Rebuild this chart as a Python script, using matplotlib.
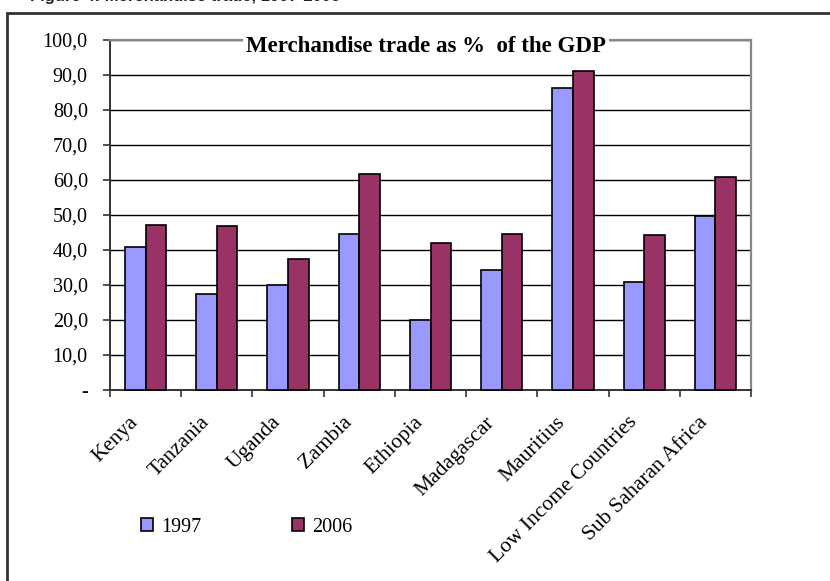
import matplotlib
matplotlib.use("Agg")
import matplotlib.pyplot as plt
import matplotlib.transforms as mtrans
from matplotlib.patches import Patch, Rectangle

categories = ["Kenya", "Tanzania", "Uganda", "Zambia", "Ethiopia", "Madagascar",
              "Mauritius", "Low Income Countries", "Sub Saharan Africa"]
vals_1997 = [40.8, 27.4, 30.0, 44.6, 20.0, 34.2, 86.4, 31.0, 49.7]
vals_2006 = [47.2, 46.8, 37.3, 61.7, 42.0, 44.6, 91.2, 44.2, 60.8]
series_labels = ["1997", "2006"]
yticks = [0, 10, 20, 30, 40, 50, 60, 70, 80, 90, 100]
ytick_labels = ["-", "10,0", "20,0", "30,0", "40,0", "50,0", "60,0", "70,0", "80,0", "90,0", "100,0"]
title = "Merchandise trade as %  of the GDP"
caption = "Figure 4: Merchandise trade, 1997-2006"

c1997 = "#9999FF"
c2006 = "#993366"
serif = ["Liberation Serif", "DejaVu Serif"]

W, H = 830, 581
fig = plt.figure(figsize=(W / 100, H / 100), dpi=100)
fig.patch.set_facecolor("white")

# outer frame (extends beyond right/bottom edge)
fig.patches.append(Rectangle((7 / W, -0.2), 1.2, 1 - 13 / H + 0.2, transform=fig.transFigure,
                             fill=False, edgecolor="#333333", linewidth=2.0, zorder=0))
# cropped caption at the very top
fig.text(30 / W, 1 - 1.5 / H, caption, fontsize=12, fontweight="bold",
         family=["Liberation Sans", "DejaVu Sans"], va="baseline", ha="left", color="#222222")

ax = fig.add_axes([110 / W, (H - 390) / H, 641 / W, 350 / H])
n = len(categories)
x = list(range(n))
bw = 0.29
ax.bar([i - bw / 2 for i in x], vals_1997, width=bw, color=c1997, edgecolor="black",
       linewidth=1.2, zorder=3, clip_on=False)
ax.bar([i + bw / 2 for i in x], vals_2006, width=bw, color=c2006, edgecolor="black",
       linewidth=1.2, zorder=3, clip_on=False)

ax.set_xlim(-0.5, n - 0.5)
ax.set_ylim(0, 100)
ax.set_yticks(yticks)
ax.set_yticklabels(ytick_labels, family=serif, fontsize=14.5)
ax.yaxis.grid(True, color="black", linewidth=1.0, zorder=0)
ax.set_axisbelow(True)

# x ticks at category boundaries, labels at centers
ax.set_xticks([i - 0.5 for i in range(n + 1)])
ax.set_xticklabels([])
ax.set_xticks(x, minor=True)
ax.set_xticklabels(categories, minor=True, rotation=45, ha="right", rotation_mode="anchor",
                   family=serif, fontsize=15.5)
ax.tick_params(axis="x", which="minor", length=0, pad=0)
ax.tick_params(axis="x", which="major", length=5, width=1.2, color="#333333", direction="out")
ax.tick_params(axis="y", length=5, width=1.2, color="#333333", direction="out", pad=11)
offset = mtrans.ScaledTranslation(-17 / 100, -23 / 100, fig.dpi_scale_trans)
for lbl in ax.get_xticklabels(minor=True):
    lbl.set_transform(lbl.get_transform() + offset)

for s in ["top", "right"]:
    ax.spines[s].set_color("#888888")
    ax.spines[s].set_linewidth(1.6)
for s in ["left", "bottom"]:
    ax.spines[s].set_color("#333333")
    ax.spines[s].set_linewidth(1.4)

fig.text(426 / W, 1 - 46 / H, title, family=serif, fontsize=16.5, fontweight="bold",
         ha="center", va="center",
         bbox=dict(facecolor="white", edgecolor="none", pad=2))

handles = [Patch(facecolor=c1997, edgecolor="black", linewidth=1.2),
           Patch(facecolor=c2006, edgecolor="black", linewidth=1.2)]
fig.legend(handles, series_labels, loc="center left", bbox_to_anchor=(141 / W, 1 - 527 / H),
           ncol=2, frameon=False, borderpad=0, borderaxespad=0,
           handlelength=0.6, handleheight=0.68, handletextpad=0.4,
           columnspacing=4.5, prop=dict(family=serif, size=14.5))

fig.savefig("out.png", dpi=100)
